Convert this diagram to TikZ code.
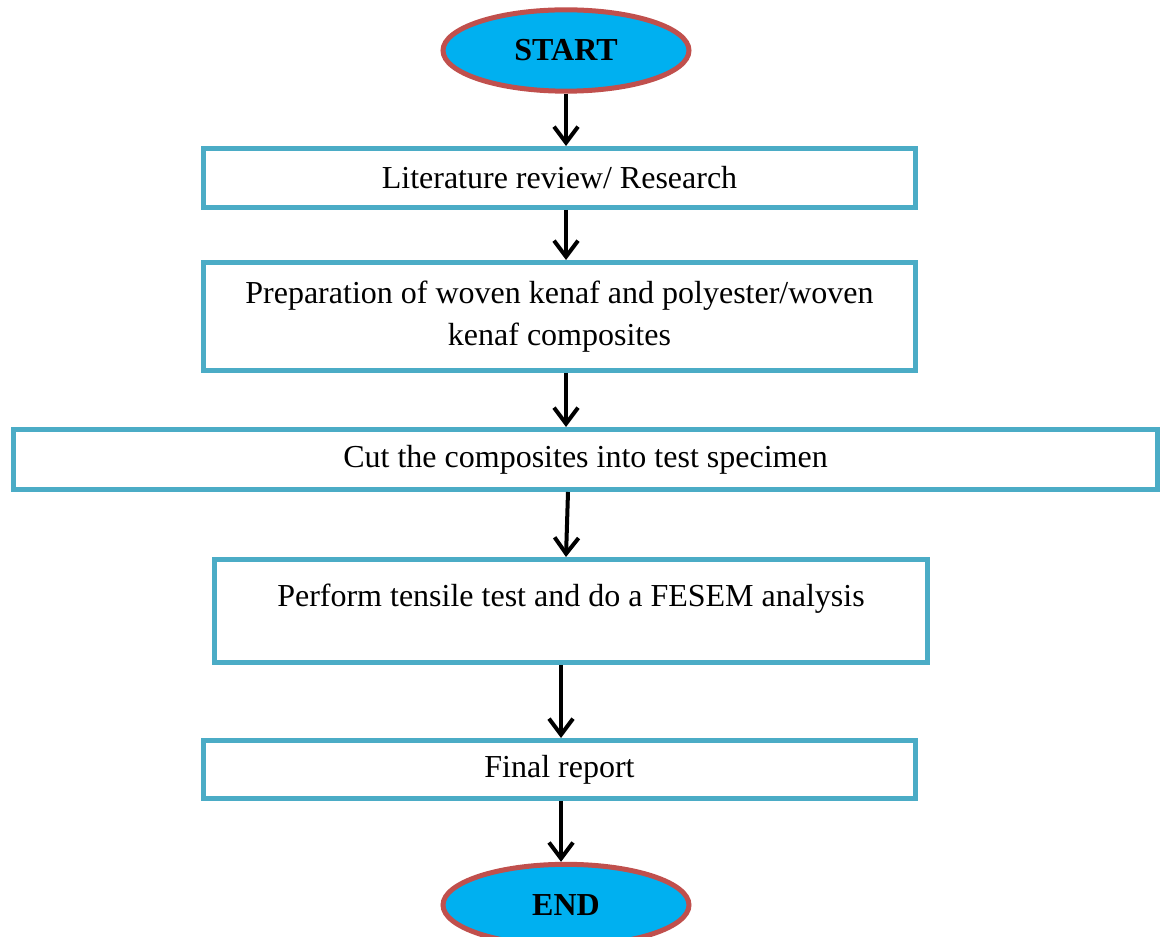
\documentclass[tikz,border=0pt]{standalone}
\usepackage{fontspec}
\setmainfont{Liberation Serif}
\usetikzlibrary{shapes.geometric,arrows.meta}
\definecolor{boxline}{HTML}{4BACC6}
\definecolor{ellfill}{HTML}{00B0F0}
\definecolor{ellline}{HTML}{C0504D}
\begin{document}
\begin{tikzpicture}[x=0.75pt,y=-0.75pt,
  stepbox/.style={draw=boxline,line width=3.75pt,rectangle,inner sep=0pt,align=center,
    font=\fontsize{24}{31.5}\selectfont},
  term/.style={ellipse,draw=ellline,fill=ellfill,line width=3.75pt,inner sep=0pt,
    minimum width=184.5pt,minimum height=61pt,font=\fontsize{24}{28}\selectfont\bfseries},
  flow/.style={line width=3pt,-{Straight Barb[length=12pt,width=18pt]}}]
\useasboundingbox (0,0) rectangle (1165,937);
\begin{scope}
\clip (0,0) rectangle (1165,937);
\node[term] (start) at (566,50.5) {START};
\node[stepbox,minimum width=534pt,minimum height=44.25pt] (lit) at (559.5,178) {Literature review/ Research};
\node[stepbox,minimum width=534pt,minimum height=81pt] (prep) at (559.5,316.5) {Preparation of woven kenaf and polyester/woven\\kenaf composites};
\node[stepbox,minimum width=858pt,minimum height=45pt] (cut) at (585.5,459.5) {Cut the composites into test specimen};
\node[stepbox,minimum width=534.75pt,minimum height=77.25pt,text height=17pt,text depth=24pt] (test) at (571,611) {Perform tensile test and do a FESEM analysis};
\node[stepbox,minimum width=534pt,minimum height=43.5pt] (rep) at (559.5,769.5) {Final report};
\node[term] (finish) at (566,905) {END};
\end{scope}
\draw[flow] (start.south) -- (start.south |- lit.north);
\draw[flow] (lit.south -| start.south) -- (start.south |- prep.north);
\draw[flow] (prep.south -| start.south) -- (start.south |- cut.north);
\draw[flow] ([xshift=1.5pt]cut.south -| start.south) -- (start.south |- test.north);
\draw[flow] ([xshift=-3.75pt]test.south -| start.south) -- ([xshift=-3.75pt]start.south |- rep.north);
\draw[flow] ([xshift=-3.75pt]rep.south -| start.south) -- ([xshift=-3.75pt]finish.north);
\end{tikzpicture}
\end{document}
